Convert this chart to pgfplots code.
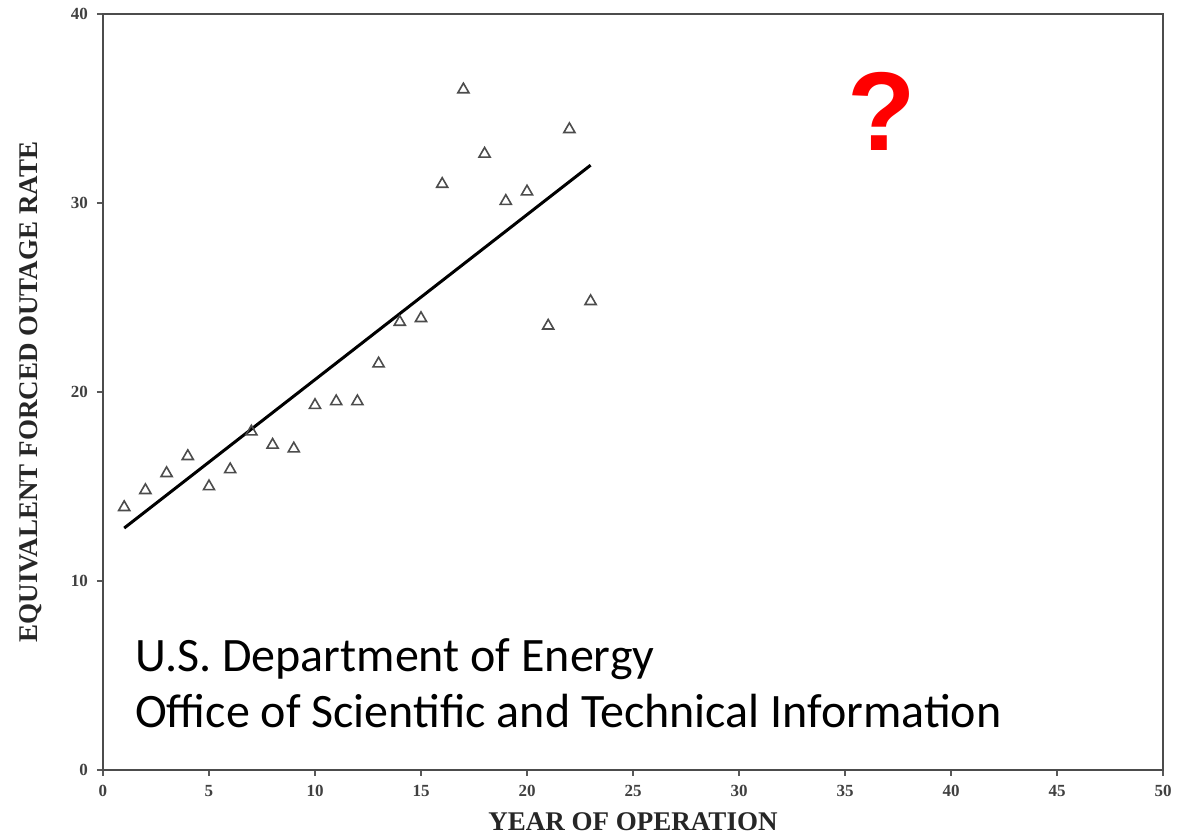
\documentclass[border=0pt]{standalone}
\usepackage{fontspec}
\setmainfont{Liberation Serif}
\newfontfamily\carlito{Carlito}
\newfontfamily\arialb{Liberation Sans}
\usepackage{pgfplots}
\pgfplotsset{compat=1.18}
\definecolor{qred}{RGB}{255,0,0}
\begin{document}
\begin{tikzpicture}
\useasboundingbox (-51.5pt,-32pt) rectangle (537.5pt,385pt);
\begin{axis}[
  at={(0,0)}, anchor=south west,
  scale only axis, width=530pt, height=378pt,
  xmin=0, xmax=50, ymin=0, ymax=40,
  xtick={0,5,...,50}, ytick={0,10,20,30,40},
  tick align=outside, major tick length=3pt,
  xtick pos=bottom, ytick pos=left,
  axis line style={black!70, line width=1.4pt},
  tick style={black!65, line width=0.8pt},
  /pgf/number format/assume math mode=true,
  tick label style={font=\fontsize{8.5}{9}\selectfont\bfseries, text=black!75},
  xticklabel style={yshift=-1pt},
  yticklabel style={xshift=-1pt},
  xlabel={YEAR OF OPERATION},
  ylabel={EQUIVALENT FORCED OUTAGE RATE},
  label style={font=\fontsize{13.5}{14}\selectfont\bfseries, text=black!85},
  xlabel style={at={(axis description cs:0.5,-0.0556)}, anchor=north, inner sep=0pt},
  ylabel style={at={(axis description cs:-0.0575,0.5)}, anchor=south, inner sep=0pt},
  clip=false,
]
\addplot[only marks, mark=triangle, mark size=3.2pt, mark options={draw=black!70, line width=0.8pt}]
coordinates {
(1,13.9) (2,14.8) (3,15.7) (4,16.6) (5,15.0) (6,15.9) (7,17.9) (8,17.2)
(9,17.0) (10,19.3) (11,19.5) (12,19.5) (13,21.5) (14,23.7) (15,23.9)
(16,31.0) (17,36.0) (18,32.6) (19,30.1) (20,30.6) (21,23.5) (22,33.9) (23,24.8)
};
\addplot[black, line width=1.5pt] coordinates {(1,12.8) (23,32.0)};
\node[anchor=base west, inner sep=0pt, font=\carlito\fontsize{24}{28}\selectfont] at (axis cs:1.5,5.2) {U.S. Department of Energy};
\node[anchor=base west, inner sep=0pt, font=\carlito\fontsize{24}{28}\selectfont] at (axis cs:1.5,2.24) {Office of Scientific and Technical Information};
\node[inner sep=0pt, text=qred, font=\arialb\bfseries\fontsize{56}{56}\selectfont] at (axis cs:36.75,34.85) {?};
\end{axis}
\end{tikzpicture}
\end{document}
